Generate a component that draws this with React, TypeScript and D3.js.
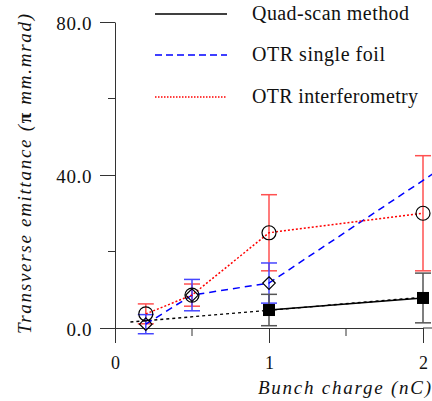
import * as d3 from "d3";
import { useEffect, useRef } from "react";

// bunch charge (nC) and emittance values
const quadX = [1, 2];
const quadY = [4.7, 7.85];
const quadErr = [4.1, 6.5];
const quadFitX = [0.1, 2];
const quadFitY = [1.6, 8.0];

const foilX = [0.2, 0.5, 1, 2.5];
const foilY = [1.0, 8.6, 11.75, 52];
const foilErr = [2.5, 4.1, 5.25, 8];

const interfX = [0.2, 0.5, 1, 2];
const interfY = [3.7, 8.6, 24.9, 30.0];
const interfErr = [2.6, 2.9, 9.95, 15.05];

const xMajor = [0, 1, 2];
const xMinor = [0.5, 1.5];
const yMajor = [0, 40, 80];
const yMinor = [20, 60];

const legendLabels = ["Quad-scan method", "OTR single foil", "OTR interferometry"];

const W = 432, H = 401;
const FONT = "'Liberation Serif', 'Times New Roman', serif";

const App = () => {
  const ref = useRef<SVGSVGElement | null>(null);

  useEffect(() => {
    const svg = d3.select(ref.current);
    svg.selectAll("*").remove();

    const x = d3.scaleLinear().domain([0, 2]).range([115, 423]);
    const y = d3.scaleLinear().domain([0, 80]).range([328, 22]);
    const axisColor = "#333";

    // Y axis
    svg.append("g")
      .attr("transform", "translate(115,0)")
      .call(d3.axisLeft(y).tickValues(yMajor).tickSize(15).tickSizeOuter(0).tickFormat(d3.format(".1f")))
      .call((g) => g.select(".domain").attr("stroke", axisColor))
      .call((g) => g.selectAll("line").attr("stroke", axisColor))
      .call((g) => g.selectAll("text")
        .attr("x", -23).attr("dy", "0.42em")
        .attr("font-family", FONT).attr("font-size", 19).attr("letter-spacing", 0.6).attr("fill", "#111"));
    svg.append("g").selectAll("line").data(yMinor).enter().append("line")
      .attr("x1", 108).attr("x2", 115)
      .attr("y1", (d) => y(d)).attr("y2", (d) => y(d))
      .attr("stroke", axisColor);

    // X axis
    svg.append("g")
      .attr("transform", "translate(0,328)")
      .call(d3.axisBottom(x).tickValues(xMajor).tickSize(15).tickSizeOuter(0).tickFormat(d3.format("d")))
      .call((g) => g.select(".domain").attr("stroke", axisColor))
      .call((g) => g.selectAll("line").attr("stroke", axisColor))
      .call((g) => g.selectAll("text")
        .attr("y", 28)
        .attr("font-family", FONT).attr("font-size", 18).attr("fill", "#111"));
    svg.append("line")
      .attr("x1", x(2)).attr("x2", W).attr("y1", 328).attr("y2", 328)
      .attr("stroke", axisColor);
    svg.append("g").selectAll("line").data(xMinor).enter().append("line")
      .attr("x1", (d) => x(d)).attr("x2", (d) => x(d))
      .attr("y1", 328).attr("y2", 336)
      .attr("stroke", axisColor);

    // axis titles
    const yTitle = svg.append("text")
      .attr("transform", "translate(31,174) rotate(-90)")
      .attr("text-anchor", "middle")
      .attr("font-family", FONT).attr("font-style", "italic").attr("font-size", 19)
      .attr("textLength", 320).attr("lengthAdjust", "spacing")
      .attr("fill", "#111");
    yTitle.append("tspan").text("Transverse emittance (");
    yTitle.append("tspan").attr("font-weight", "bold").attr("font-style", "normal").text("π");
    yTitle.append("tspan").text(" mm.mrad)");
    svg.append("text")
      .attr("x", 258).attr("y", 394)
      .attr("font-family", FONT).attr("font-style", "italic").attr("font-size", 19)
      .attr("textLength", 173).attr("lengthAdjust", "spacing")
      .attr("fill", "#111")
      .text("Bunch charge (nC)");

    const plot = svg.append("g");
    const line = d3.line<[number, number]>().x((d) => x(d[0])).y((d) => y(d[1]));

    const errorBars = (xs: number[], ys: number[], es: number[], color: string) => {
      const g = plot.append("g").attr("stroke", color).attr("stroke-width", 1.5);
      xs.forEach((xv, i) => {
        const top = y(ys[i] + es[i]), bot = y(ys[i] - es[i]), cx = x(xv);
        g.append("line").attr("x1", cx).attr("x2", cx).attr("y1", top).attr("y2", bot);
        g.append("line").attr("x1", cx - 8).attr("x2", cx + 8).attr("y1", top).attr("y2", top);
        g.append("line").attr("x1", cx - 8).attr("x2", cx + 8).attr("y1", bot).attr("y2", bot);
      });
    };

    errorBars(interfX, interfY, interfErr, "#ff5050");
    errorBars(foilX, foilY, foilErr, "#4646ff");
    errorBars(quadX, quadY, quadErr, "#555");

    // lines
    plot.append("path")
      .attr("d", line(quadFitX.map((v, i) => [v, quadFitY[i]] as [number, number])))
      .attr("fill", "none").attr("stroke", "#000").attr("stroke-width", 1.5).attr("stroke-dasharray", "3,3");
    plot.append("path")
      .attr("d", line(quadX.map((v, i) => [v, quadY[i]] as [number, number])))
      .attr("fill", "none").attr("stroke", "#000").attr("stroke-width", 1.5);
    plot.append("path")
      .attr("d", line(foilX.map((v, i) => [v, foilY[i]] as [number, number])))
      .attr("fill", "none").attr("stroke", "#0000ff").attr("stroke-width", 1.5).attr("stroke-dasharray", "7,5");
    plot.append("path")
      .attr("d", line(interfX.map((v, i) => [v, interfY[i]] as [number, number])))
      .attr("fill", "none").attr("stroke", "#ff0000").attr("stroke-width", 1.5).attr("stroke-dasharray", "2,2");

    // markers
    plot.append("g").selectAll("circle").data(interfX).enter().append("circle")
      .attr("cx", (d) => x(d)).attr("cy", (d, i) => y(interfY[i])).attr("r", 7)
      .attr("fill", "none").attr("stroke", "#000").attr("stroke-width", 1.2);
    plot.append("g").selectAll("path").data(foilX).enter().append("path")
      .attr("d", d3.symbol(d3.symbolDiamond2, 100)())
      .attr("transform", (d, i) => `translate(${x(d)},${y(foilY[i])})`)
      .attr("fill", "none").attr("stroke", "#000").attr("stroke-width", 1.2);
    plot.append("g").selectAll("rect").data(quadX).enter().append("rect")
      .attr("x", (d) => x(d) - 6).attr("y", (d, i) => y(quadY[i]) - 6)
      .attr("width", 12).attr("height", 12).attr("fill", "#000");

    // legend
    const styles = [
      { stroke: "#000", dash: "none" },
      { stroke: "#0000ff", dash: "7,4" },
      { stroke: "#ff0000", dash: "1.5,1.5" },
    ];
    const lengths = [157, 133, 166];
    const legendY = [14, 55, 97];
    legendLabels.forEach((label, i) => {
      svg.append("line")
        .attr("x1", 155).attr("x2", 227).attr("y1", legendY[i]).attr("y2", legendY[i])
        .attr("stroke", styles[i].stroke).attr("stroke-width", 1.5)
        .attr("stroke-dasharray", styles[i].dash);
      svg.append("text")
        .attr("x", 252).attr("y", legendY[i] + 6)
        .attr("font-family", FONT).attr("font-size", 20)
        .attr("textLength", lengths[i]).attr("lengthAdjust", "spacing")
        .attr("fill", "#111")
        .text(label);
    });
  }, []);

  return (
    <svg ref={ref} width={W} height={H}
      style={{ position: "absolute", left: 0, top: 0, background: "#fff" }} />
  );
};

export default App;
